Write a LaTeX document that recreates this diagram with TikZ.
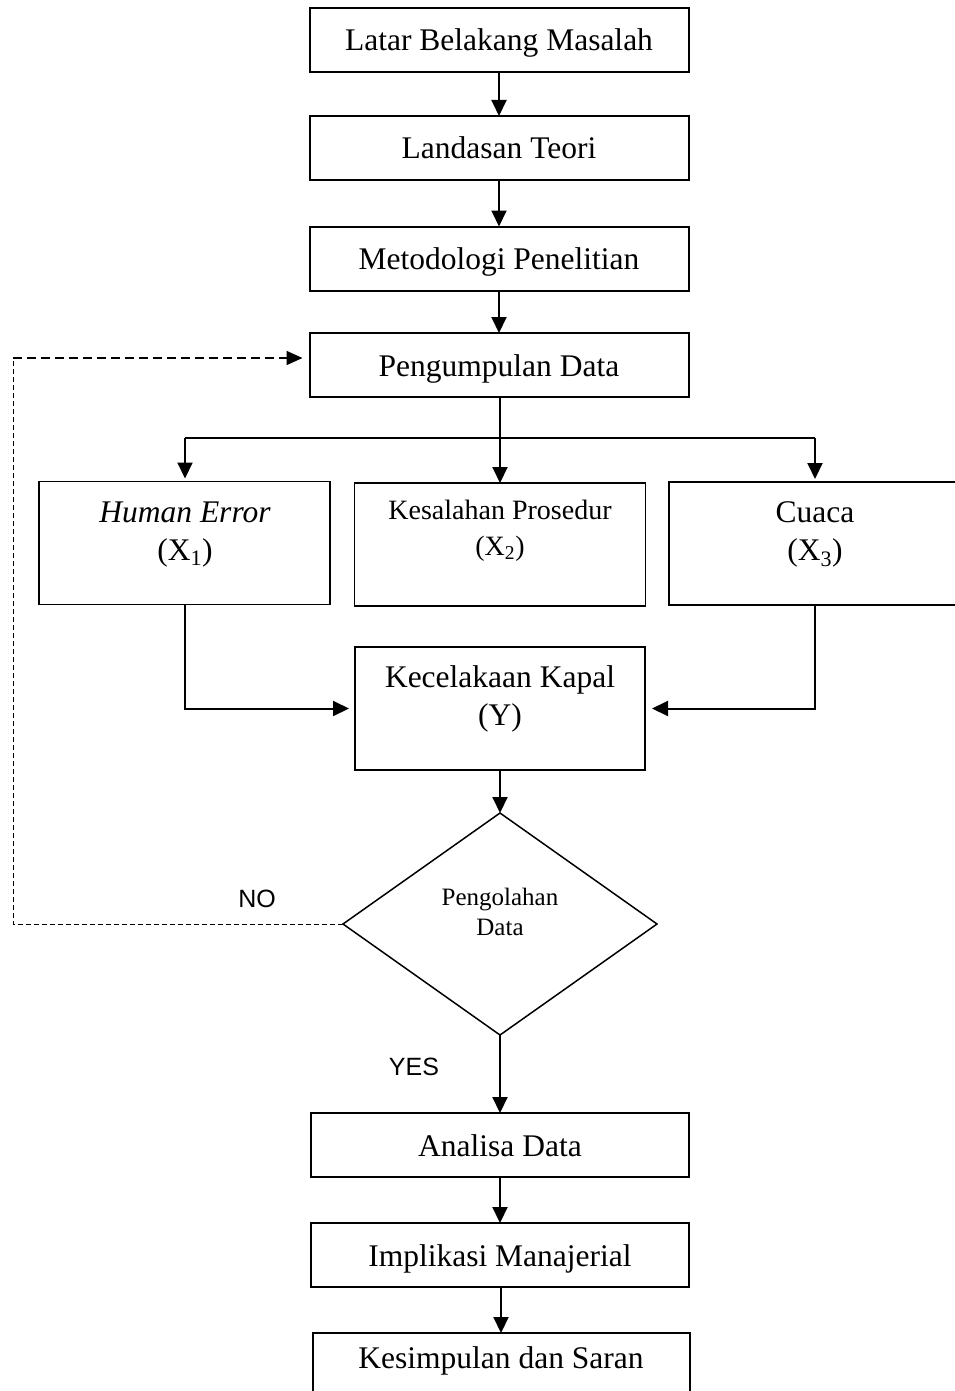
\documentclass[tikz,border=0pt]{standalone}
\usepackage{fontspec}
\setmainfont{Liberation Serif}
\newfontfamily\labfont{Liberation Sans}
\usetikzlibrary{arrows.meta,shapes.geometric}
\begin{document}
\begin{tikzpicture}[x=1pt,y=-1pt,
  every node/.style={inner sep=0pt, outer sep=0pt},
  box/.style={draw, line width=2pt, minimum width=379pt, minimum height=64pt,
    text height=22pt, text depth=0pt, font=\fontsize{31.5}{37}\selectfont},
  mbox/.style={draw, line width=1.5pt, minimum width=291pt, minimum height=123pt},
  txt/.style={anchor=base, font=\fontsize{31.5}{37}\selectfont},
  stxt/.style={anchor=base, font=\fontsize{28}{34}\selectfont},
  dtxt/.style={anchor=base, font=\fontsize{25}{30}\selectfont},
  lab/.style={anchor=base, font=\labfont\fontsize{25}{30}\selectfont},
  arr/.style={line width=2pt, -{Triangle[width=15pt,length=16pt]}},
  link/.style={line width=1.7pt},
  fbthin/.style={line width=1pt, dash pattern=on 5pt off 3pt},
  fbthick/.style={line width=1.6pt, dash pattern=on 9pt off 5pt, -{Triangle[width=14pt,length=16pt]}}]
\useasboundingbox (0,0) rectangle (954,1391);

% top chain
\node (b1) [box] at (499,40) {Latar Belakang Masalah};
\node (b2) [box] at (499,148) {Landasan Teori};
\node (b3) [box] at (499,258.5) {Metodologi Penelitian};
\node (b4) [box] at (499,365) {Pengumpulan Data};

\draw[arr] (b1) -- (b2);
\draw[arr] (b2) -- (b3);
\draw[arr] (b3) -- (b4);

% three factor boxes
\node (hx) [mbox] at (184.5,543) {};
\node (hx1) [txt] at (185,522) {\itshape Human Error};
\node (hx2) [txt] at (185,560) {(X\textsubscript{1})};

\node (ks) [mbox] at (500,544.5) {};
\node (ks1) [stxt] at (500,519) {Kesalahan Prosedur};
\node (ks2) [stxt] at (500,555) {(X\textsubscript{2})};

\node (cu) [mbox, minimum width=292pt] at (815,543.5) {};
\node (cu1) [txt] at (815,522) {Cuaca};
\node (cu2) [txt] at (815,560) {(X\textsubscript{3})};

\coordinate (sL) at (185,438);
\coordinate (sR) at (815,438);
\draw[link] (sL) -- (sR);
\draw[arr] (b4.south -| ks.north) -- (ks.north);
\draw[arr, shorten >=3pt] (sL) -- (sL |- hx.north);
\draw[arr, shorten >=3pt] (sR) -- (sR |- cu.north);

% result box
\node (kec) [mbox, minimum width=290pt] at (500,708.5) {};
\node (kec1) [txt] at (500,687) {Kecelakaan Kapal};
\node (kec2) [txt] at (500,725) {(Y)};

\draw[arr, shorten >=6pt] (hx.south) |- (kec.west);
\draw[arr, shorten >=7pt] (cu.south) |- (kec.east);

% decision
\node (dia) [diamond, draw, line width=1.5pt, minimum width=314pt, minimum height=222pt] at (500,924) {};
\node (dia1) [dtxt] at (500,905) {Pengolahan};
\node (dia2) [dtxt] at (500,935) {Data};
\draw[arr] (kec.south) -- (dia.north);

% feedback
\coordinate (fb1) at (13,924);
\coordinate (fb2) at (13,358);
\draw[fbthin] (dia.west) -- (fb1) -- (fb2);
\draw[fbthick, shorten >=7pt] (fb2) -- (fb2 -| b4.west);
\node (no) [lab] at (257,907) {NO};
\node (yes) [lab] at (414,1075) {YES};

% bottom chain
\node (an) [box, minimum width=378pt] at (500,1145) {Analisa Data};
\node (im) [box, minimum width=378pt] at (500,1255) {Implikasi Manajerial};
\node (kes) [box, minimum width=377pt, minimum height=68pt] at (501,1367) {};
\node (kes1) [txt] at (501,1368) {Kesimpulan dan Saran};

\draw[arr] (dia.south) -- (dia.south |- an.north);
\draw[arr] (an) -- (im);
\draw[arr] (im.south -| kes.north) -- (kes.north);
\end{tikzpicture}
\end{document}
